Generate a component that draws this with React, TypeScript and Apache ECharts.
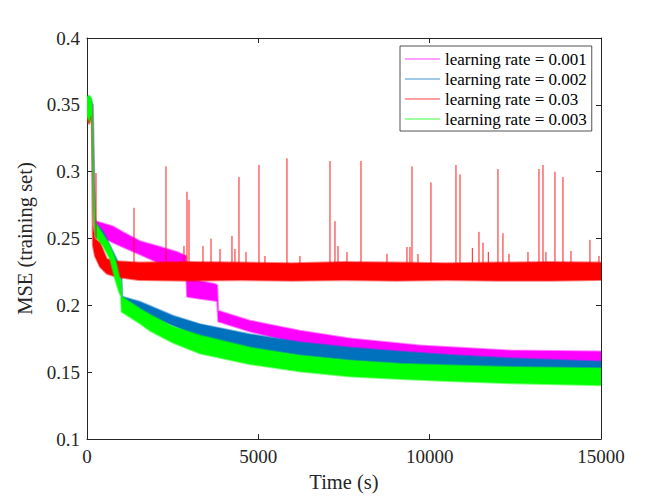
import React, { useEffect, useRef } from "react";
import * as echarts from "echarts";

// ---- legend names (plot order) ----
const NAMES = [
  "learning rate = 0.001",
  "learning rate = 0.002",
  "learning rate = 0.03",
  "learning rate = 0.003",
];

// ---- axis ticks ----
const X_MIN = 0;
const X_MAX = 15000;
const X_STEP = 5000;
const Y_MIN = 0.1;
const Y_MAX = 0.4;
const Y_STEP = 0.05;

// ---- lr = 0.001 (magenta) : noise envelope ----
const lr001T = [0, 60, 120, 170, 210, 240, 380, 760, 1050, 1550, 2040, 2630, 2890, 2920, 3300, 3735, 3800, 3830, 4757, 6216, 7675, 9134, 9718, 12343, 15000];
const lr001Hi = [0.352, 0.354, 0.352, 0.35, 0.3, 0.263, 0.262, 0.259, 0.2548, 0.248, 0.2444, 0.24, 0.237, 0.2198, 0.218, 0.216, 0.215, 0.196, 0.1886, 0.1811, 0.1752, 0.1715, 0.17, 0.1663, 0.1655];
const lr001Lo = [0.338, 0.34, 0.34, 0.336, 0.28, 0.253, 0.252, 0.247, 0.2437, 0.238, 0.2325, 0.228, 0.226, 0.2065, 0.205, 0.2035, 0.203, 0.188, 0.1804, 0.1715, 0.1655, 0.1618, 0.1595, 0.1566, 0.155];

// ---- lr = 0.002 (blue) ----
const lr002T = [0, 60, 120, 150, 200, 240, 470, 760, 875, 963, 1000, 1030, 1547, 2510, 3298, 4757, 6216, 7675, 9134, 10500, 12343, 15000];
const lr002Hi = [0.355, 0.356, 0.354, 0.35, 0.29, 0.262, 0.255, 0.24, 0.234, 0.2295, 0.227, 0.2065, 0.2027, 0.1923, 0.186, 0.1785, 0.1725, 0.1685, 0.1655, 0.163, 0.1605, 0.158];
const lr002Lo = [0.342, 0.34, 0.342, 0.335, 0.27, 0.253, 0.246, 0.234, 0.226, 0.222, 0.219, 0.1997, 0.1953, 0.1849, 0.1765, 0.168, 0.1625, 0.1588, 0.1562, 0.154, 0.152, 0.1506];

// ---- lr = 0.03 (red) ----
const lr03T = [0, 60, 120, 140, 170, 230, 380, 580, 875, 1500, 3000, 4500, 6000, 7500, 9000, 10500, 12000, 13500, 15000];
const lr03Hi = [0.35, 0.352, 0.35, 0.345, 0.26, 0.2496, 0.247, 0.2347, 0.233, 0.232, 0.2325, 0.232, 0.2315, 0.2325, 0.232, 0.2315, 0.232, 0.2325, 0.232];
const lr03Lo = [0.338, 0.336, 0.34, 0.335, 0.245, 0.237, 0.2288, 0.2236, 0.2213, 0.219, 0.2185, 0.219, 0.2185, 0.219, 0.2185, 0.219, 0.2185, 0.2185, 0.219];

// ---- lr = 0.003 (green) ----
const lr003T = [0, 60, 120, 150, 200, 240, 470, 670, 820, 935, 990, 1010, 1547, 1838, 2510, 3298, 4757, 6216, 7675, 9134, 10500, 12343, 15000];
const lr003Hi = [0.356, 0.357, 0.355, 0.35, 0.29, 0.262, 0.253, 0.2444, 0.2347, 0.222, 0.218, 0.2065, 0.1975, 0.193, 0.184, 0.1775, 0.1685, 0.1625, 0.1588, 0.1563, 0.1553, 0.154, 0.1529];
const lr003Lo = [0.342, 0.338, 0.343, 0.335, 0.27, 0.252, 0.2444, 0.2347, 0.2198, 0.21, 0.207, 0.1953, 0.1864, 0.181, 0.172, 0.164, 0.156, 0.1506, 0.1469, 0.145, 0.1435, 0.1417, 0.1402];

// ---- lr = 0.03 spikes (time, peak, foot) ----
const spikeT = [263, 1372, 2305, 2918, 2977, 3619, 4231, 4435, 5019, 5836, 7091, 7237, 7996, 9484, 10038, 10768, 10885, 11439, 11556, 11993, 12139, 13190, 13307, 13657, 13890, 14678,
  2830, 3385, 3882, 4318, 4640, 5194, 6215, 7325, 7587, 8754, 9338, 9659, 9425, 11245, 11711, 12314, 12869, 13394, 14124, 14941];
const spikeTop = [0.299, 0.273, 0.304, 0.285, 0.279, 0.25, 0.252, 0.296, 0.305, 0.31, 0.308, 0.263, 0.308, 0.304, 0.292, 0.305, 0.298, 0.255, 0.247, 0.302, 0.254, 0.302, 0.305, 0.3, 0.296, 0.249,
  0.2444, 0.2444, 0.2422, 0.2422, 0.24, 0.237, 0.237, 0.2444, 0.24, 0.2385, 0.2437, 0.2385, 0.2437, 0.243, 0.24, 0.2385, 0.24, 0.24, 0.2407, 0.237];
const spikeFoot = [0.242, 0.226, 0.226, 0.226, 0.226, 0.226, 0.226, 0.226, 0.226, 0.226, 0.226, 0.226, 0.226, 0.226, 0.226, 0.226, 0.226, 0.226, 0.226, 0.226, 0.226, 0.226, 0.226, 0.226, 0.226, 0.226,
  0.226, 0.226, 0.226, 0.226, 0.226, 0.226, 0.226, 0.226, 0.226, 0.226, 0.226, 0.226, 0.226, 0.226, 0.226, 0.226, 0.226, 0.226, 0.226, 0.226];

const COLORS = ["#ff00ff", "#0072bd", "#ff0000", "#00ff00"];
const AXIS_COLOR = "#262626";
const FONT = "'Liberation Serif', 'Times New Roman', serif";

function band(name: string, t: number[], lo: number[], hi: number[], color: string) {
  return {
    type: "custom",
    name,
    silent: true,
    color,
    itemStyle: { color },
    encode: { x: 0, y: [1, 2] },
    data: t.map((x, i) => [x, lo[i], hi[i]]),
    renderItem: (params: any, api: any) => {
      if (params.dataIndex !== 0) return null;
      const up = t.map((x, i) => api.coord([x, hi[i]]));
      const dn = t.map((x, i) => api.coord([x, lo[i]])).reverse();
      const cs = params.coordSys;
      return {
        type: "polygon",
        shape: { points: up.concat(dn) },
        style: { fill: color, stroke: color, lineWidth: 2, strokeOpacity: 0.5 },
        clipPath: {
          type: "rect",
          shape: { x: cs.x, y: cs.y, width: cs.width, height: cs.height },
        },
      };
    },
  };
}

export default function App() {
  const ref = useRef<HTMLDivElement>(null);

  useEffect(() => {
    document.body.style.margin = "0";
    if (!ref.current) return;
    const chart = echarts.init(ref.current, null, { renderer: "svg" });

    const spikeData: any[] = [];
    spikeT.forEach((t, i) => {
      spikeData.push([t, spikeFoot[i]]);
      spikeData.push([t, spikeTop[i]]);
      spikeData.push([t, "-"]);
    });

    const axisCommon = {
      type: "value",
      axisLine: { show: true, onZero: false, lineStyle: { color: AXIS_COLOR, width: 1 } },
      axisTick: { show: true, inside: true, length: 5, lineStyle: { color: AXIS_COLOR, width: 1 } },
      splitLine: { show: false },
    };

    const option: any = {
      animation: false,
      backgroundColor: "#ffffff",
      grid: { left: 87, right: 63, top: 38, bottom: 56, containLabel: false },
      xAxis: [
        {
          ...axisCommon,
          min: X_MIN,
          max: X_MAX,
          interval: X_STEP,
          position: "bottom",
          axisLabel: { fontFamily: FONT, fontSize: 19, color: AXIS_COLOR, margin: 8, formatter: (v: number) => String(v) },
          name: "Time (s)",
          nameLocation: "middle",
          nameGap: 27,
          nameTextStyle: { fontFamily: FONT, fontSize: 20.5, color: AXIS_COLOR },
        },
        {
          ...axisCommon,
          min: X_MIN,
          max: X_MAX,
          interval: X_STEP,
          position: "top",
          axisLabel: { show: false },
        },
      ],
      yAxis: [
        {
          ...axisCommon,
          min: Y_MIN,
          max: Y_MAX,
          interval: Y_STEP,
          position: "left",
          axisLabel: { fontFamily: FONT, fontSize: 19, color: AXIS_COLOR, margin: 7 },
          name: "MSE (training set)",
          nameLocation: "middle",
          nameGap: 37,
          nameTextStyle: { fontFamily: FONT, fontSize: 20.5, color: AXIS_COLOR },
        },
        {
          ...axisCommon,
          min: Y_MIN,
          max: Y_MAX,
          interval: Y_STEP,
          position: "right",
          axisLabel: { show: false },
        },
      ],
      legend: {
        data: NAMES.map((n) => ({ name: n, icon: "rect", itemStyle: { borderWidth: 0, opacity: 0.75 } })),
        orient: "vertical",
        left: 400,
        top: 46,
        itemWidth: 35,
        itemHeight: 1,
        itemGap: 0,
        padding: [3, 5, 2, 5],
        borderColor: AXIS_COLOR,
        borderWidth: 0.8,
        backgroundColor: "#ffffff",
        selectedMode: false,
        textStyle: { fontFamily: FONT, fontSize: 17, color: "#000000", lineHeight: 20 },
      },
      series: [
        band(NAMES[0], lr001T, lr001Lo, lr001Hi, COLORS[0]),
        band(NAMES[1], lr002T, lr002Lo, lr002Hi, COLORS[1]),
        band(NAMES[2], lr03T, lr03Lo, lr03Hi, COLORS[2]),
        {
          type: "line",
          name: "lr 0.03 spikes",
          data: spikeData,
          symbol: "none",
          silent: true,
          connectNulls: false,
          lineStyle: { color: COLORS[2], width: 0.9 },
          itemStyle: { color: COLORS[2] },
        },
        band(NAMES[3], lr003T, lr003Lo, lr003Hi, COLORS[3]),
      ],
    };

    chart.setOption(option);
    return () => chart.dispose();
  }, []);

  return <div ref={ref} style={{ width: 664, height: 497 }} />;
}
